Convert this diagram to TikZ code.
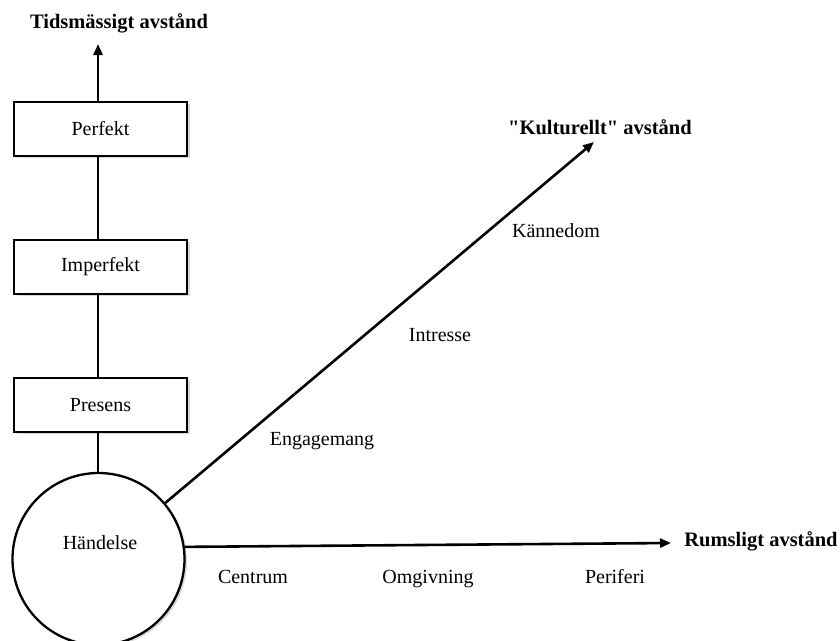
\documentclass[tikz,border=0pt]{standalone}
\usepackage{fontspec}
\setmainfont{Liberation Serif}[Ligatures=TeXOff]
\usetikzlibrary{arrows.meta}
\begin{document}
\begin{tikzpicture}[x=1pt,y=-1pt,
  axis/.style={line width=2.6pt},
  arr/.style={axis,-{Triangle[length=11pt,width=9pt]}},
  tbox/.style={draw,line width=1.7pt,minimum width=173pt,minimum height=54pt,inner sep=0pt,font=\fontsize{20}{24}\selectfont,fill=white},
  lbl/.style={font=\fontsize{20}{24}\selectfont,inner sep=0pt,anchor=base},
  ttl/.style={font=\fontsize{20.5}{24}\selectfont\bfseries,inner sep=0pt}]
\useasboundingbox (0,0) rectangle (840,640);
% shadows
\foreach \y in {129,267,405}{\fill[black!15] (16.5,\y-25) rectangle (189.5,\y+29);}
\fill[black!15] (101,561) circle (86);
\node[tbox] (perf) at (100.5,129) {Perfekt};
\node[tbox] (imperf) at (100.5,267) {Imperfekt};
\node[tbox] (pres) at (100.5,405) {Presens};
\node[draw,circle,line width=2.3pt,minimum size=172pt,fill=white,inner sep=0pt] (ev) at (98.5,559) {};
\node[lbl] (evl) at (100,549) {Händelse};
\coordinate (ttip) at (98,44);
\coordinate (ktip) at (594,142);
\coordinate (rtip) at (671,543);
\draw[arr] (perf.north -| ttip) -- (ttip);
\draw[axis] (imperf.north -| ttip) -- (perf.south -| ttip);
\draw[axis] (pres.north -| ttip) -- (imperf.south -| ttip);
\draw[axis] (ev.north -| ttip) -- (pres.south -| ttip);
\draw[arr] (ev.40) -- (ktip);
\draw[arr] (ev.8) -- (rtip);
\node[ttl] (tt) at (119,23) {Tidsmässigt avstånd};
\node[ttl] (kt) at (600,127) {"Kulturellt" avstånd};
\node[ttl] (rt) at (761,541) {Rumsligt avstånd};
\node[lbl] (kan) at (556,237) {Kännedom};
\node[lbl] (intr) at (440,341) {Intresse};
\node[lbl] (eng) at (322,445) {Engagemang};
\node[lbl] (cen) at (253,583) {Centrum};
\node[lbl] (omg) at (428,583) {Omgivning};
\node[lbl] (per) at (615,583) {Periferi};
\end{tikzpicture}
\end{document}
